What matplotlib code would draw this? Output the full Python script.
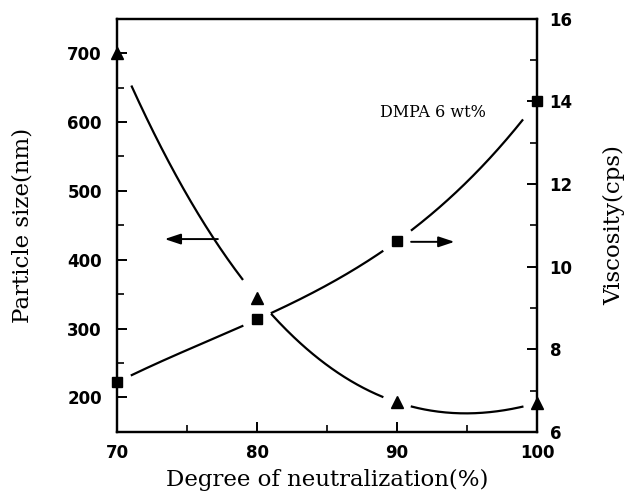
import numpy as np
import matplotlib
matplotlib.use("Agg")
from matplotlib import pyplot as plt
from matplotlib.ticker import MultipleLocator

# data
neutralization = [70, 80, 90, 100]
particle_size = [700, 345, 193, 192]      # nm, triangles, left axis
viscosity = [7.2, 8.72, 10.62, 14.0]      # cps, squares, right axis

xlabel = 'Degree of neutralization(%)'
ylabel_left = 'Particle size(nm)'
ylabel_right = 'Viscosity(cps)'
note = 'DMPA 6 wt%'

serif = 'DejaVu Serif'
labelsize = 16.5


def fitted_curve(x, y, gap=1.0):
    # smooth trend curve through the points, broken around each marker
    coef = np.polyfit(x, y, 3)
    xs = np.linspace(min(x), max(x), 400)
    ys = np.polyval(coef, xs)
    near = np.min(np.abs(xs[:, None] - np.array(x)[None, :]), axis=1) < gap
    ys[near] = np.nan
    return xs, ys


fig = plt.figure(figsize=(6.26, 4.93), dpi=100)
ax = fig.add_axes([0.187, 0.124, 0.671, 0.838])
ax2 = ax.twinx()

xs, ys = fitted_curve(neutralization, particle_size)
ax.plot(xs, ys, color='black', lw=1.6)
ax.plot(neutralization, particle_size, ls='none', marker='^', ms=9,
        color='black', clip_on=False, zorder=5)

xs, ys = fitted_curve(neutralization, viscosity)
ax2.plot(xs, ys, color='black', lw=1.6)
ax2.plot(neutralization, viscosity, ls='none', marker='s', ms=7.5,
         color='black', clip_on=False, zorder=5)

ax.set_xlim(70, 100)
ax.set_ylim(150, 750)
ax2.set_ylim(6, 16)

ax.xaxis.set_major_locator(MultipleLocator(10))
ax.xaxis.set_minor_locator(MultipleLocator(5))
ax.yaxis.set_major_locator(MultipleLocator(100))
ax.yaxis.set_minor_locator(MultipleLocator(50))
ax2.yaxis.set_major_locator(MultipleLocator(2))
ax2.yaxis.set_minor_locator(MultipleLocator(1))
ax.set_yticks([200, 300, 400, 500, 600, 700])

ax.tick_params(axis='both', which='major', direction='in', length=7,
               width=1.4, top=False, right=False, pad=11)
ax.tick_params(axis='both', which='minor', direction='in', length=5,
               width=1.2, top=False, right=False)
ax.tick_params(axis='x', which='major', pad=9)
ax2.tick_params(axis='y', which='major', direction='in', length=7,
                width=1.4, pad=9)
ax2.tick_params(axis='y', which='minor', direction='in', length=5, width=1.2)

for a in (ax, ax2):
    for lbl in a.get_xticklabels() + a.get_yticklabels():
        lbl.set_fontfamily('DejaVu Sans')
        lbl.set_fontweight('bold')
        lbl.set_fontsize(12)
    for sp in a.spines.values():
        sp.set_linewidth(1.6)

ax.set_xlabel(xlabel, family=serif, fontsize=labelsize, labelpad=5)
ax.set_ylabel(ylabel_left, family=serif, fontsize=labelsize, labelpad=24)
ax2.set_ylabel(ylabel_right, family=serif, fontsize=labelsize, labelpad=22,
               rotation=90)

# direction arrows
arrow = dict(arrowstyle='-|>,head_length=0.6,head_width=0.2',
             color='black', lw=1.4, mutation_scale=16,
             shrinkA=0, shrinkB=0)
ax.annotate('', xy=(73.4, 430), xytext=(77.2, 430), arrowprops=arrow)
ax2.annotate('', xy=(94.1, 10.6), xytext=(91.0, 10.6), arrowprops=arrow)

ax2.text(88.8, 13.73, note, family=serif, fontsize=11.5, va='center')

fig.savefig('out.png', dpi=100)
